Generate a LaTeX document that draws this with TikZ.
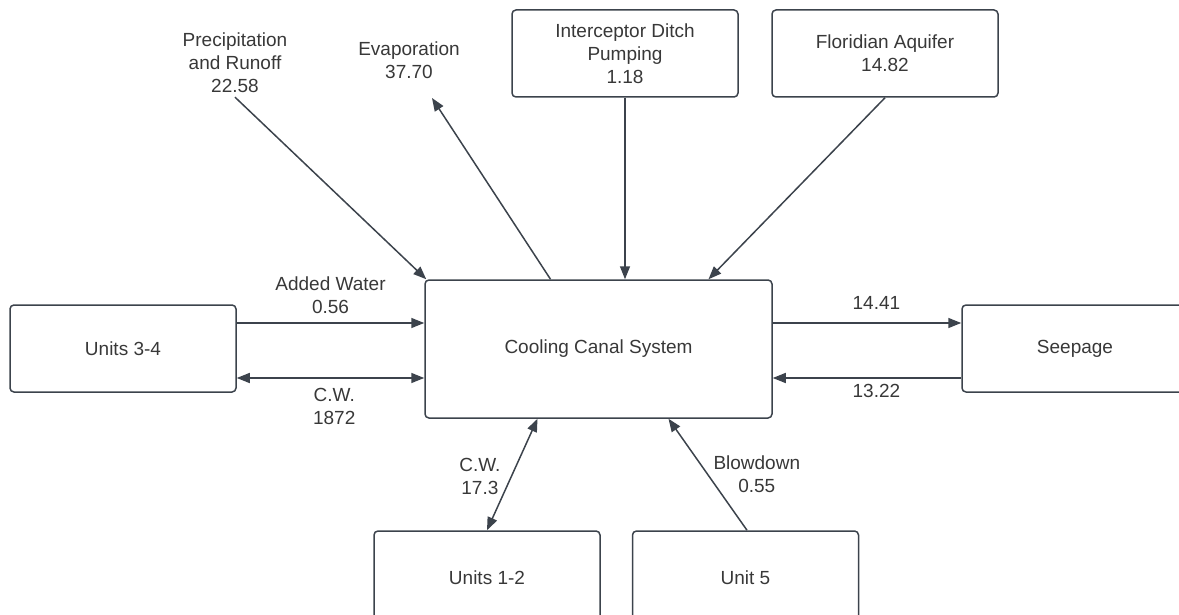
\documentclass[tikz,border=0pt]{standalone}
\usepackage{fontspec}
\setmainfont{Liberation Sans}
\usetikzlibrary{arrows.meta}

\definecolor{linegray}{HTML}{3C434C}
\definecolor{textgray}{HTML}{383838}

\tikzset{
  every node/.style={font=\fontsize{19}{23}\selectfont, text=textgray},
  unit/.style={draw=linegray, line width=1.5pt, rounded corners=4pt,
    minimum width=226pt, minimum height=87pt, inner sep=0pt, align=center},
  lbl/.style={align=center, inner sep=1pt},
  flow/.style={draw=linegray, line width=1.5pt, -{Triangle[length=13pt,width=10pt]}},
  twoway/.style={flow, {Triangle[length=13pt,width=10pt]}-{Triangle[length=13pt,width=10pt]}},
}

\begin{document}
\begin{tikzpicture}[x=1pt,y=-1pt]
   \useasboundingbox (0,0) rectangle (1179,615);

   % boxes
   \node[unit, minimum width=347pt, minimum height=138pt] (ccs) at (598.5,349) {Cooling Canal System};
   \node[unit] (u34) at (123,348.5) {Units 3-4};
   \node[unit] (seep) at (1075,348.5) {Seepage};
   \node[unit, minimum height=94pt] (u12) at (487,578) {Units 1-2};
   \node[unit, minimum height=94pt] (u5) at (745.5,578) {Unit 5};
   \node[unit] (idp) at (625,53.5) {Interceptor Ditch\\Pumping\\1.18};
   \node[unit] (fa) at (885,53.5) {Floridian Aquifer\\14.82};

   % free labels
   \node[lbl] (precip) at (235,63) {Precipitation\\and Runoff\\22.58};
   \node[lbl] (evap) at (409,60.5) {Evaporation\\37.70};
   \coordinate (evaptip) at (432,98);

   % rows of the side arrows
   \coordinate (rowA) at (0,323);
   \coordinate (rowB) at (0,378);

   % top flows
   \draw[flow] ([yshift=-3pt]precip.south) -- ([xshift=2pt]ccs.north west);
   \draw[flow] ([xshift=-48pt]ccs.north) -- (evaptip);
   \draw[flow] (idp.south) -- (idp.south |- ccs.north);
   \draw[flow] (fa.south) -- ([xshift=110pt]ccs.north);

   % left side
   \draw[flow] (u34.east |- rowA) -- node[lbl, above=8pt] {Added Water\\0.56} (ccs.west |- rowA);
   \draw[twoway] (u34.east |- rowB) -- node[lbl, below=8pt, pos=0.52] {C.W.\\1872} (ccs.west |- rowB);

   % right side
   \draw[flow] (ccs.east |- rowA) -- node[lbl, above=12pt, pos=0.55] {14.41} (seep.west |- rowA);
   \draw[flow] (seep.west |- rowB) -- node[lbl, below=4pt, pos=0.45] {13.22} (ccs.east |- rowB);

   % bottom
   \draw[twoway] ([xshift=-61pt]ccs.south) -- node[lbl, left=10pt, yshift=-2pt] {C.W.\\17.3} (u12.north);
   \draw[flow] ([xshift=1.5pt]u5.north) -- node[lbl, right=4pt] {Blowdown\\0.55} ([xshift=70pt]ccs.south);
\end{tikzpicture}
\end{document}
